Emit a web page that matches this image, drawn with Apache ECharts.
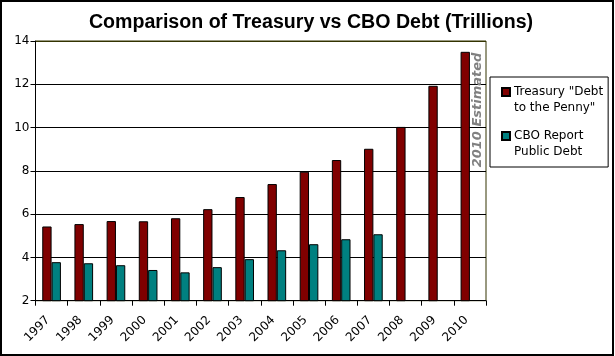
<!DOCTYPE html>
<html>
<head>
<meta charset="utf-8">
<script src="https://cdn.jsdelivr.net/npm/echarts@6/dist/echarts.min.js"></script>
<style>html,body{margin:0;padding:0;background:#fff}#c{width:615px;height:356px}</style>
</head>
<body>
<div id="c"></div>
<script>
var years = ['1997','1998','1999','2000','2001','2002','2003','2004','2005','2006','2007','2008','2009','2010'];
var treasuryDebt = [5.43, 5.54, 5.68, 5.67, 5.81, 6.23, 6.79, 7.39, 7.96, 8.50, 9.02, 10.03, 11.93, 13.50];
var cboPublicDebt = [3.78, 3.73, 3.64, 3.42, 3.31, 3.55, 3.92, 4.33, 4.61, 4.84, 5.07, null, null, null];
var seriesNames = ['Treasury "Debt\nto the Penny"', 'CBO Report\nPublic Debt'];
var yTicks = { min: 2, max: 14, interval: 2 };
var titleText = 'Comparison of Treasury vs CBO Debt (Trillions)';
var noteText = '2010 Estimated';

var chart = echarts.init(document.getElementById('c'), null, { renderer: 'canvas' });
var font = 'DejaVu Sans, Verdana, sans-serif';
var legendIcon = 'path://M0,0L8,0L8,8L0,8Z M0,24';
chart.setOption({
  animation: false,
  backgroundColor: '#ffffff',
  title: {
    text: titleText,
    left: 306, textAlign: 'center',
    top: 8,
    textStyle: { fontFamily: 'Liberation Sans, Arial, sans-serif', fontWeight: 'bold', fontSize: 19.6, color: '#000' }
  },
  grid: {
    left: 35.5, right: 129, top: 41, bottom: 55.3,
    show: true, borderColor: '#333300', borderWidth: 1, backgroundColor: '#fff'
  },
  legend: {
    orient: 'vertical',
    left: 490, top: 77,
    padding: [7, 5, 7, 11],
    borderColor: '#000', borderWidth: 1,
    itemWidth: 8, itemHeight: 24, itemGap: 12,
    icon: legendIcon,
    textStyle: { fontFamily: font, fontSize: 12, color: '#000', lineHeight: 16, padding: [0,0,0,-1] },
    data: seriesNames
  },
  xAxis: {
    type: 'category',
    data: years,
    boundaryGap: true,
    axisLine: { lineStyle: { color: '#000', width: 1 } },
    axisTick: { show: true, length: 5, lineStyle: { color: '#000' } },
    axisLabel: { rotate: 45, margin: 14, padding: [0, 5, 0, 0], fontFamily: font, fontSize: 12, color: '#000', interval: 0 },
    splitLine: { show: false }
  },
  yAxis: {
    type: 'value',
    min: yTicks.min, max: yTicks.max, interval: yTicks.interval,
    axisLine: { show: true, lineStyle: { color: '#000', width: 1 } },
    axisTick: { show: true, length: 5, lineStyle: { color: '#000' } },
    axisLabel: { margin: 6, fontFamily: font, fontSize: 12, color: '#000' },
    splitLine: { show: true, lineStyle: { color: ['#000','#000','#000','#000','#000','#000','#333300'], width: 1 } }
  },
  series: [
    {
      name: seriesNames[0], type: 'bar', data: treasuryDebt,
      barGap: '0%', barCategoryGap: '42%',
      itemStyle: { color: '#800000', borderColor: '#000', borderWidth: 1 }
    },
    {
      name: seriesNames[1], type: 'bar', data: cboPublicDebt,
      barGap: '0%', barCategoryGap: '42%',
      itemStyle: { color: '#008080', borderColor: '#000', borderWidth: 1 }
    }
  ],
  graphic: [
    {
      type: 'text', x: 478, y: 110, rotation: Math.PI / 2, z: 100,
      style: { text: noteText, fill: '#808080', font: 'italic bold 13px DejaVu Sans', align: 'center', verticalAlign: 'middle' }
    },
    {
      type: 'rect', z: 100,
      shape: { x: 1, y: 1, width: 612, height: 354 },
      style: { fill: null, stroke: '#000', lineWidth: 2 }
    }
  ]
});
</script>
</body>
</html>
